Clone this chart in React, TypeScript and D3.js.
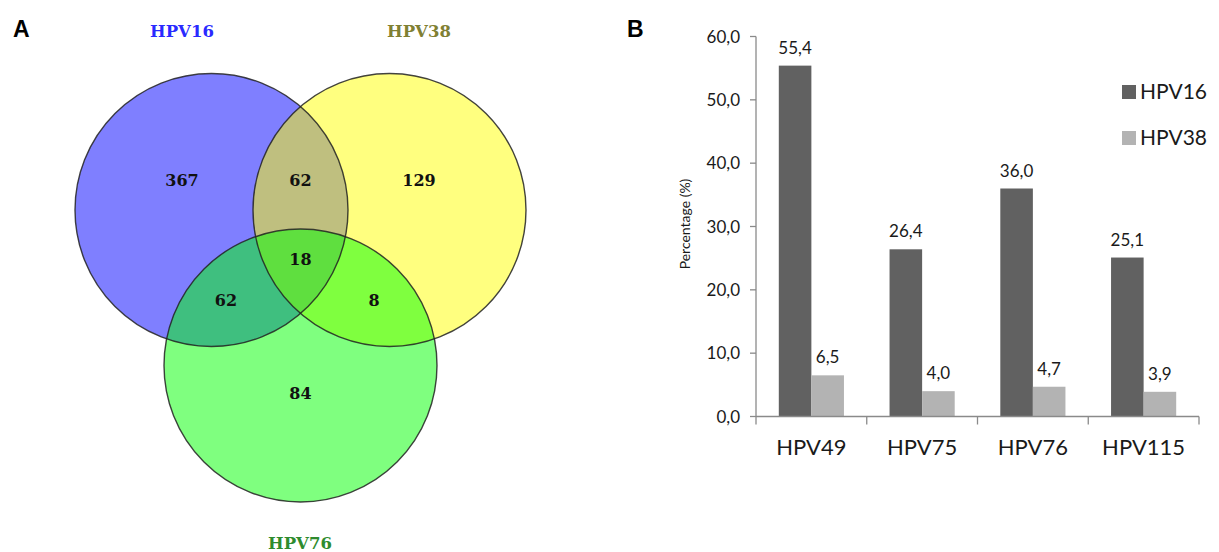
import * as d3 from "d3"

// Venn diagram (panel A)
const vennSets = ["HPV16", "HPV38", "HPV76"]
const vennSetColors = ["#0000ff", "#ffff00", "#00ff00"]
const vennLabelColors = ["#2a2aff", "#808033", "#2e8b2e"]
const regionSets = [[0], [1], [2], [0, 1], [0, 2], [1, 2], [0, 1, 2]]
const regionCounts = [367, 129, 84, 62, 62, 8, 18]

// Bar chart (panel B)
const categories = ["HPV49", "HPV75", "HPV76", "HPV115"]
const seriesNames = ["HPV16", "HPV38"]
const hpv16Values = [55.4, 26.4, 36.0, 25.1]
const hpv38Values = [6.5, 4.0, 4.7, 3.9]
const yTicks = [0, 10, 20, 30, 40, 50, 60]

const W = 1219
const H = 552

const commaLocale = d3.formatLocale({
  decimal: ",",
  thousands: ".",
  grouping: [3],
  currency: ["", ""]
})
const fmt = commaLocale.format(".1f")

const Venn = () => {
  const r = 136.5
  const cx0 = 300.5
  const half = 89
  // centers of the three circles
  const centers: [number, number][] = [
    [cx0 - half, 210],
    [cx0 + half, 210],
    [cx0, 365.5]
  ]
  // nudges for the count labels, relative to the mean of included centers
  const nudge: Record<string, [number, number]> = {
    "0": [-29.5, -30],
    "1": [29.5, -30],
    "2": [0, 27.5],
    "0,1": [0, -30],
    "0,2": [-30, 13],
    "1,2": [29, 13],
    "0,1,2": [0, -2.5]
  }
  const labelPos = [
    [182, 37],
    [419, 37],
    [300, 549]
  ]
  return (
    <g>
      {centers.map((c, i) => (
        <circle key={"f" + i} cx={c[0]} cy={c[1]} r={r} fill={vennSetColors[i]} fillOpacity={0.5} />
      ))}
      {centers.map((c, i) => (
        <circle key={"s" + i} cx={c[0]} cy={c[1]} r={r} fill="none" stroke="#222" strokeOpacity={0.85} strokeWidth={1.4} />
      ))}
      {regionSets.map((s, i) => {
        const mx = d3.mean(s, k => centers[k][0]) as number
        const my = d3.mean(s, k => centers[k][1]) as number
        const n = nudge[s.join(",")]
        return (
          <text
            key={"r" + i}
            x={mx + n[0]}
            y={my + n[1]}
            dy="0.35em"
            textAnchor="middle"
            fontFamily="DejaVu Serif"
            fontWeight="bold"
            fontSize={16}
            fill="#111"
          >
            {regionCounts[i]}
          </text>
        )
      })}
      {vennSets.map((name, i) => (
        <text
          key={"l" + i}
          x={labelPos[i][0]}
          y={labelPos[i][1]}
          textAnchor="middle"
          fontFamily="DejaVu Serif"
          fontWeight="bold"
          fontSize={16.5}
          fill={vennLabelColors[i]}
        >
          {name}
        </text>
      ))}
    </g>
  )
}

const Bars = () => {
  const x0 = 756
  const x1 = 1199
  const yBase = 416.5
  const yTop = 36.5
  const y = d3.scaleLinear().domain([0, 60]).range([yBase, yTop])
  const x = d3.scaleBand<string>().domain(categories).range([x0, x1]).paddingInner(0).paddingOuter(0)
  const xs = d3.scaleBand<string>().domain(seriesNames).range([0, x.bandwidth()]).paddingInner(0).paddingOuter(0.7)
  const seriesValues = [hpv16Values, hpv38Values]
  const seriesColors = ["#616161", "#b3b3b3"]
  const font = "Lato, 'Open Sans', sans-serif"
  const axisColor = "#8a8a8a"
  const bounds = categories.map(c => x(c) as number).concat([x1])
  return (
    <g>
      {/* y axis */}
      <line x1={x0} x2={x0} y1={yTop} y2={yBase} stroke={axisColor} strokeWidth={1.3} />
      {yTicks.map(t => (
        <g key={t}>
          <line x1={x0 - 6} x2={x0} y1={y(t)} y2={y(t)} stroke={axisColor} strokeWidth={1.3} />
          <text x={x0 - 16} y={y(t)} dy="0.36em" textAnchor="end" fontFamily={font} fontSize={17} fill="#1a1a1a">
            {fmt(t)}
          </text>
        </g>
      ))}
      <text
        transform="translate(690,224) rotate(-90)"
        textAnchor="middle"
        fontFamily={font}
        fontSize={14}
        fill="#1a1a1a"
      >
        Percentage (%)
      </text>
      {/* bars */}
      {categories.map((c, ci) =>
        seriesNames.map((s, si) => {
          const v = seriesValues[si][ci]
          const bx = (x(c) as number) + (xs(s) as number)
          return (
            <g key={c + s}>
              <rect x={bx} y={y(v)} width={xs.bandwidth()} height={yBase - y(v)} fill={seriesColors[si]} />
              <text
                x={bx + xs.bandwidth() / 2}
                y={y(v) - 12}
                textAnchor="middle"
                fontFamily={font}
                fontSize={17}
                fill="#1a1a1a"
              >
                {fmt(v)}
              </text>
            </g>
          )
        })
      )}
      {/* x axis */}
      <line x1={x0} x2={x1} y1={yBase} y2={yBase} stroke={axisColor} strokeWidth={1.3} />
      {bounds.map((b, i) => (
        <line key={i} x1={b} x2={b} y1={yBase} y2={yBase + 8} stroke={axisColor} strokeWidth={1.3} />
      ))}
      {categories.map(c => (
        <text
          key={c}
          x={(x(c) as number) + x.bandwidth() / 2}
          y={455}
          textAnchor="middle"
          fontFamily={font}
          fontSize={22}
          fill="#1a1a1a"
        >
          {c}
        </text>
      ))}
      {/* legend */}
      {seriesNames.map((s, i) => (
        <g key={s} transform={`translate(1122,${85 + i * 46})`}>
          <rect width={14} height={14} fill={seriesColors[i]} />
          <text x={18} y={14} fontFamily={font} fontSize={21} fill="#1a1a1a">
            {s}
          </text>
        </g>
      ))}
    </g>
  )
}

export default function App() {
  return (
    <svg
      width={W}
      height={H}
      style={{ position: "absolute", left: 0, top: 0, background: "#fff" }}
    >
      <rect width={W} height={H} fill="#fff" />
      <text x={13} y={37} fontFamily="Liberation Sans, Arial, sans-serif" fontWeight="bold" fontSize={23} fill="#000">
        A
      </text>
      <text x={627} y={37} fontFamily="Liberation Sans, Arial, sans-serif" fontWeight="bold" fontSize={23} fill="#000">
        B
      </text>
      <Venn />
      <Bars />
    </svg>
  )
}
